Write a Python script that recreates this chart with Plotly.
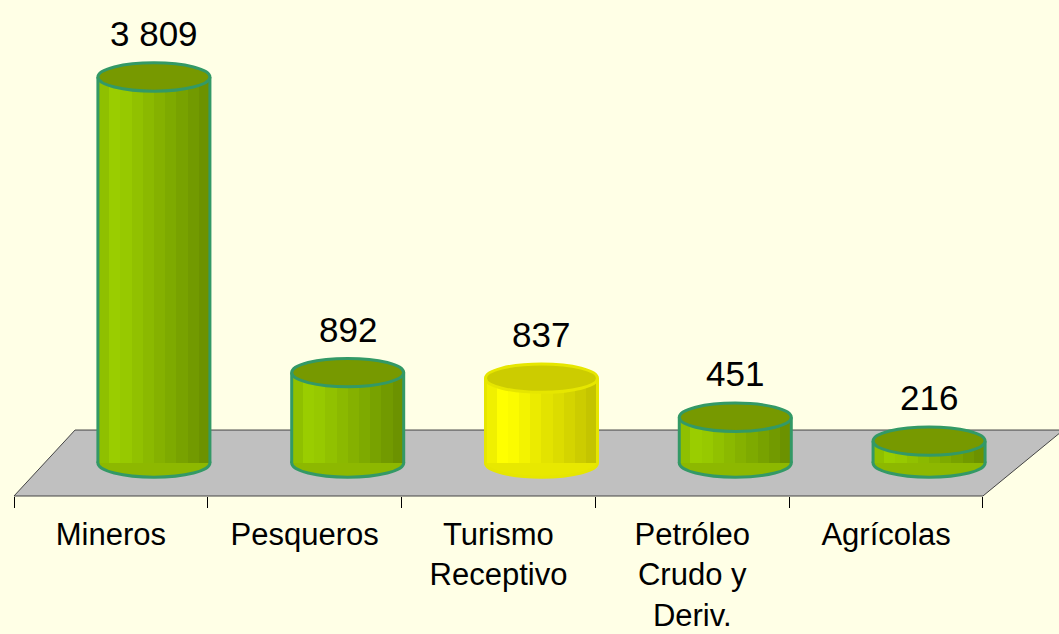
import plotly.graph_objects as go

# ---- data ----
categories = ["Mineros", "Pesqueros", "Turismo<br>Receptivo", "Petróleo<br>Crudo y<br>Deriv.", "Agrícolas"]
values = [3809, 892, 837, 451, 216]
value_labels = ["3 809", "892", "837", "451", "216"]
highlight = [False, False, True, False, False]

# ---- style ----
BG = "#FFFFE6"
N = 10
depth_off = 0.222      # 3D depth shift of bars (category units)
bar_w = 0.578
cap_h = 140            # half-height of the elliptical caps (y units)
XMIN, XMAX = -0.5, 4.65
UNIT_PX = 193.8

def lerp(c1, c2, t):
    a = [int(c1[i:i+2], 16) for i in (1, 3, 5)]
    b = [int(c2[i:i+2], 16) for i in (1, 3, 5)]
    return "#%02X%02X%02X" % tuple(round(a[j] + (b[j] - a[j]) * t) for j in range(3))

def stripe_color(k, hi):
    light, dark, edge = ("#FFFF00", "#C4C400", "#F0F000") if hi else ("#9ACD00", "#6C9200", "#8FC000")
    if k == 0:
        return edge
    t = max(0.0, (k - 1.5) / (N - 2.5))
    return lerp(light, dark, t)

def px(xd):
    return (xd - XMIN) / (XMAX - XMIN)

xs = list(range(len(categories)))
fig = go.Figure()

for k in range(N):
    fig.add_trace(go.Bar(
        x=xs, y=values, base=0,
        width=bar_w / N,
        offset=depth_off - bar_w / 2 + k * bar_w / N,
        marker=dict(color=[stripe_color(k, h) for h in highlight], line=dict(width=0)),
        hoverinfo="skip", showlegend=False,
    ))

shapes = []
# floor (paper coordinates derived from the category scale)
left, right = xs[0] - 0.5, xs[-1] + 0.5
slant = 0.315
floor_top = 0.133
shapes.append(dict(type="path", xref="paper", yref="paper",
                   path=f"M {px(left)} 0 L {px(left + slant)} {floor_top} L {px(right + slant + 0.1)} {floor_top} L {px(right)} 0 Z",
                   fillcolor="#C0C0C0", line=dict(color="#444444", width=1), layer="below"))

for i, v in enumerate(values):
    hi = highlight[i]
    outline = "#E6E600" if hi else "#339966"
    topfill = "#CCCC00" if hi else "#779900"
    basefill = "#E8E800" if hi else "#8DB800"
    c = xs[i] + depth_off
    x0, x1 = c - bar_w / 2, c + bar_w / 2
    shapes.append(dict(type="circle", xref="x", yref="y", x0=x0, x1=x1, y0=-cap_h, y1=cap_h,
                       fillcolor=basefill, line=dict(color=outline, width=3), layer="below"))
    for xe in (x0, x1):
        shapes.append(dict(type="line", xref="x", yref="y", x0=xe, x1=xe, y0=0, y1=v,
                           line=dict(color=outline, width=3), layer="above"))
    shapes.append(dict(type="circle", xref="x", yref="y", x0=x0, x1=x1, y0=v - cap_h, y1=v + cap_h,
                       fillcolor=topfill, line=dict(color=outline, width=3), layer="above"))

annotations = []
for i, v in enumerate(values):
    annotations.append(dict(x=xs[i] + depth_off, y=v, xref="x", yref="y", text=value_labels[i],
                            showarrow=False, yanchor="bottom", yshift=22,
                            font=dict(family="Liberation Sans, Arial", size=35, color="black")))

plot_w = (XMAX - XMIN) * UNIT_PX
fig.update_layout(
    width=1059, height=634,
    margin=dict(l=14, r=round(1059 - 14 - plot_w), t=0, b=138),
    paper_bgcolor=BG, plot_bgcolor="rgba(0,0,0,0)",
    barmode="overlay", bargap=0,
    shapes=shapes, annotations=annotations,
    font=dict(family="Liberation Sans, Arial", size=31, color="black"),
    showlegend=False,
)
fig.update_xaxes(
    range=[XMIN, XMAX], tickmode="array", tickvals=xs, ticktext=categories,
    ticks="", showgrid=False, zeroline=False, showline=False,
    ticklabelstandoff=17,
    tickfont=dict(family="Liberation Sans, Arial", size=31, color="black"),
    minor=dict(tickmode="array", tickvals=[x - 0.5 for x in xs] + [xs[-1] + 0.5],
               ticks="outside", ticklen=11, tickcolor="black", tickwidth=1, showgrid=False),
)
fig.update_yaxes(range=[-326, 4569], visible=False, showgrid=False, zeroline=False)

fig.write_html("out.html", config={"displayModeBar": False},
               post_script="document.body.style.margin='0px';")
